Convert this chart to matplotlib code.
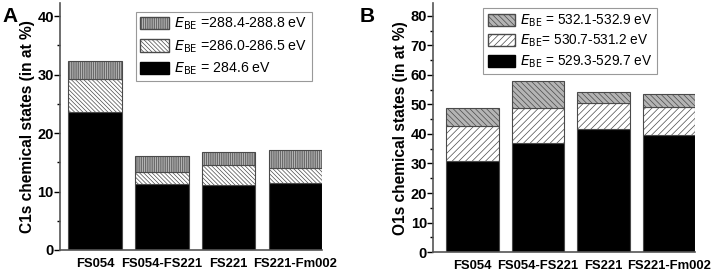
import matplotlib.pyplot as plt
import numpy as np
from matplotlib.patches import Patch
from matplotlib.ticker import MultipleLocator

plt.rcParams["font.family"] = ["Liberation Sans", "DejaVu Sans"]
plt.rcParams["hatch.linewidth"] = 0.5

samples = ["FS054", "FS054-FS221", "FS221", "FS221-Fm002"]

# C1s components (at %), stacked bottom -> top
c1s_low = [23.6, 11.3, 11.05, 11.4]
c1s_mid = [5.6, 2.1, 3.55, 2.6]
c1s_high = [3.2, 2.6, 2.2, 3.1]
c1s_labels = [r"$\it{E}$$_{\rm BE}$ =288.4-288.8 eV",
              r"$\it{E}$$_{\rm BE}$ =286.0-286.5 eV",
              r"$\it{E}$$_{\rm BE}$ = 284.6 eV"]

# O1s components (at %)
o1s_low = [31.0, 37.1, 41.6, 39.6]
o1s_mid = [11.6, 11.7, 9.0, 9.7]
o1s_high = [6.2, 9.2, 3.5, 4.2]
o1s_labels = [r"$\it{E}$$_{\rm BE}$ = 532.1-532.9 eV",
              r"$\it{E}$$_{\rm BE}$= 530.7-531.2 eV",
              r"$\it{E}$$_{\rm BE}$ = 529.3-529.7 eV"]

EDGE = "#4a4a4a"
GREY = "#b4b4b4"


def stacked(ax, low, mid, high, mid_hatch, top_hatch, labels, ylim, ylabel,
            xlim, leg_xy, leg_font, leg_space):
    x = np.arange(len(samples))
    low, mid, high = map(np.asarray, (low, mid, high))
    kw = dict(width=0.8, edgecolor=EDGE, linewidth=0.8)
    ax.bar(x, low, color="black", **kw)
    ax.bar(x, mid, bottom=low, color="white", hatch=mid_hatch, **kw)
    ax.bar(x, high, bottom=low + mid, color=GREY, hatch=top_hatch, **kw)
    ax.set_xlim(*xlim)
    ax.set_ylim(*ylim)
    ax.set_xticks(x)
    ax.set_xticklabels(samples, fontweight="bold", fontsize=9.4)
    ax.tick_params(axis="x", length=0, pad=6)
    ax.yaxis.set_major_locator(MultipleLocator(10))
    ax.yaxis.set_minor_locator(MultipleLocator(5))
    ax.tick_params(axis="y", which="major", length=4, width=1, labelsize=10.5, pad=0.5)
    ax.tick_params(axis="y", which="minor", length=2, width=1)
    for t in ax.get_yticklabels():
        t.set_fontweight("bold")
    for s in ("top", "right"):
        ax.spines[s].set_visible(False)
    for s in ("left", "bottom"):
        ax.spines[s].set_color("#555555")
        ax.spines[s].set_linewidth(1.2)
    ax.set_ylabel(ylabel, fontweight="bold", fontsize=11.2, labelpad=2)
    handles = [
        Patch(facecolor=GREY, edgecolor=EDGE, hatch=top_hatch, label=labels[0]),
        Patch(facecolor="white", edgecolor=EDGE, hatch=mid_hatch, label=labels[1]),
        Patch(facecolor="black", edgecolor="black", label=labels[2]),
    ]
    leg = ax.legend(handles=handles, loc="upper right", bbox_to_anchor=leg_xy,
                    bbox_transform=fig.transFigure, borderaxespad=0,
                    fontsize=leg_font, fancybox=False, framealpha=1,
                    edgecolor="#999999", handlelength=2.0, handleheight=0.95,
                    handletextpad=0.4, labelspacing=leg_space, borderpad=0.3)
    leg.get_frame().set_linewidth(0.8)


fig = plt.figure(figsize=(7.13, 2.71), dpi=100)
axA = fig.add_axes([0.0842, 0.0775, 0.3674, 0.91])
axB = fig.add_axes([0.6077, 0.0700, 0.3671, 0.918])

stacked(axA, c1s_low, c1s_mid, c1s_high, "\\" * 8, "|" * 9, c1s_labels,
        (0, 42.2), "C1s chemical states (in at %)", (-0.525, 3.4),
        (311.7 / 713, 1 - 11.7 / 271), 10.2, 0.42)
stacked(axB, o1s_low, o1s_mid, o1s_high, "/" * 5, "\\" * 6, o1s_labels,
        (0, 84.3), "O1s chemical states (in at %)", (-0.6, 3.4),
        (656.7 / 713, 1 - 8.3 / 271), 9.8, 0.3)

fig.text(0.003, 0.975, "A", fontsize=15, fontweight="bold", va="top")
fig.text(0.505, 0.975, "B", fontsize=15, fontweight="bold", va="top")

fig.savefig("out.png", dpi=100)
